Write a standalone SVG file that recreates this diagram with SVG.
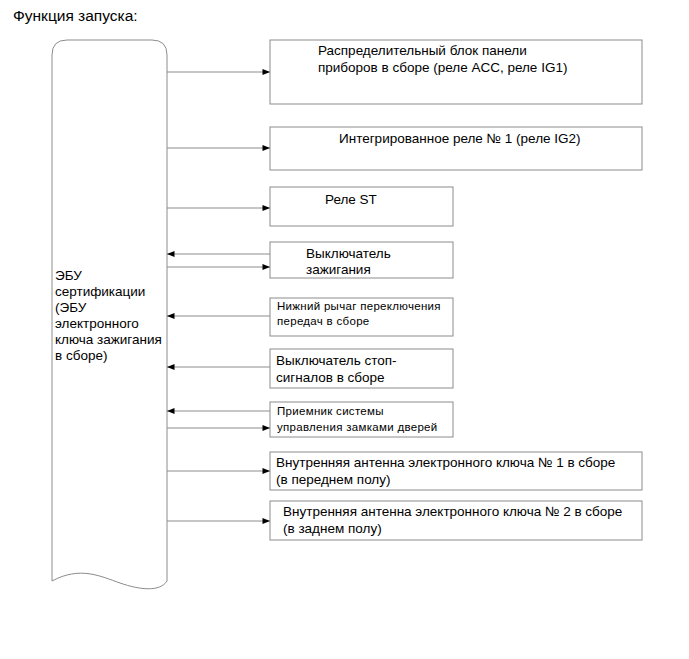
<svg xmlns="http://www.w3.org/2000/svg" width="689" height="659" viewBox="0 0 689 659">
<defs>
<style>
.t{font-family:"Liberation Sans",Arial,sans-serif;font-size:13.5px;fill:#000}
.h{font-family:"Liberation Sans",Arial,sans-serif;font-size:15.5px;fill:#000}
.s{font-family:"Liberation Sans",Arial,sans-serif;font-size:11.5px;letter-spacing:0.3px;fill:#000}
.box{fill:#fff;stroke:#8c8c8c;stroke-width:1}
.ln{stroke:#8c8c8c;stroke-width:1;fill:none}
</style>
<marker id="ah" viewBox="0 0 10 8" refX="10" refY="4" markerWidth="9" markerHeight="6" markerUnits="userSpaceOnUse" orient="auto">
<path d="M0,0 L10,4 L0,8 z" fill="#000"/>
</marker>
</defs>
<rect width="689" height="659" fill="#fff"/>
<text class="h" x="13" y="21">Функция запуска:</text>

<g id="ecu">
<path class="box" d="M52,581 L52,55 Q52,40 67,40 L152,40 Q167,40 167,55 L167,581 C160,592 140,590 120,583 C100,576 80,566 52,581 Z"/>
<text class="t" x="55" y="280">ЭБУ</text>
<text class="t" x="55" y="296">сертификации</text>
<text class="t" x="55" y="312">(ЭБУ</text>
<text class="t" x="55" y="328">электронного</text>
<text class="t" x="55" y="344">ключа зажигания</text>
<text class="t" x="55" y="360">в сборе)</text>
</g>

<g id="n1"><rect class="box" x="270" y="40" width="372" height="64"/>
<text class="t" x="318" y="55">Распределительный блок панели</text>
<text class="t" x="318" y="72">приборов в сборе (реле ACC, реле IG1)</text></g>

<g id="n2"><rect class="box" x="270" y="127" width="372" height="43"/>
<text class="t" x="339" y="143">Интегрированное реле № 1 (реле IG2)</text></g>

<g id="n3"><rect class="box" x="270" y="187" width="183" height="39"/>
<text class="t" x="325" y="204">Реле ST</text></g>

<g id="n4"><rect class="box" x="270" y="242" width="183" height="36"/>
<text class="t" x="306" y="258">Выключатель</text>
<text class="t" x="306" y="274">зажигания</text></g>

<g id="n5"><rect class="box" x="270" y="298" width="183" height="38"/>
<text class="s" x="277" y="310">Нижний рычаг переключения</text>
<text class="s" x="277" y="325">передач в сборе</text></g>

<g id="n6"><rect class="box" x="270" y="349" width="183" height="39"/>
<text class="t" x="276" y="365">Выключатель стоп-</text>
<text class="t" x="276" y="382">сигналов в сборе</text></g>

<g id="n7"><rect class="box" x="270" y="402" width="183" height="35"/>
<text class="s" x="277" y="415">Приемник системы</text>
<text class="s" x="277" y="431">управления замками дверей</text></g>

<g id="n8"><rect class="box" x="270" y="452" width="372" height="38"/>
<text class="t" x="276" y="467">Внутренняя антенна электронного ключа № 1 в сборе</text>
<text class="t" x="276" y="484">(в переднем полу)</text></g>

<g id="n9"><rect class="box" x="270" y="501" width="372" height="39"/>
<text class="t" x="283" y="516">Внутренняя антенна электронного ключа № 2 в сборе</text>
<text class="t" x="283" y="533">(в заднем полу)</text></g>

<g id="connectors">
<line class="ln" x1="167" y1="72" x2="270" y2="72" marker-end="url(#ah)"/>
<line class="ln" x1="167" y1="148" x2="270" y2="148" marker-end="url(#ah)"/>
<line class="ln" x1="167" y1="208" x2="270" y2="208" marker-end="url(#ah)"/>
<line class="ln" x1="270" y1="254" x2="167" y2="254" marker-end="url(#ah)"/>
<line class="ln" x1="167" y1="267" x2="270" y2="267" marker-end="url(#ah)"/>
<line class="ln" x1="270" y1="316" x2="167" y2="316" marker-end="url(#ah)"/>
<line class="ln" x1="270" y1="367" x2="167" y2="367" marker-end="url(#ah)"/>
<line class="ln" x1="270" y1="411" x2="167" y2="411" marker-end="url(#ah)"/>
<line class="ln" x1="167" y1="428" x2="270" y2="428" marker-end="url(#ah)"/>
<line class="ln" x1="167" y1="471" x2="270" y2="471" marker-end="url(#ah)"/>
<line class="ln" x1="167" y1="521" x2="270" y2="521" marker-end="url(#ah)"/>
</g>
</svg>
